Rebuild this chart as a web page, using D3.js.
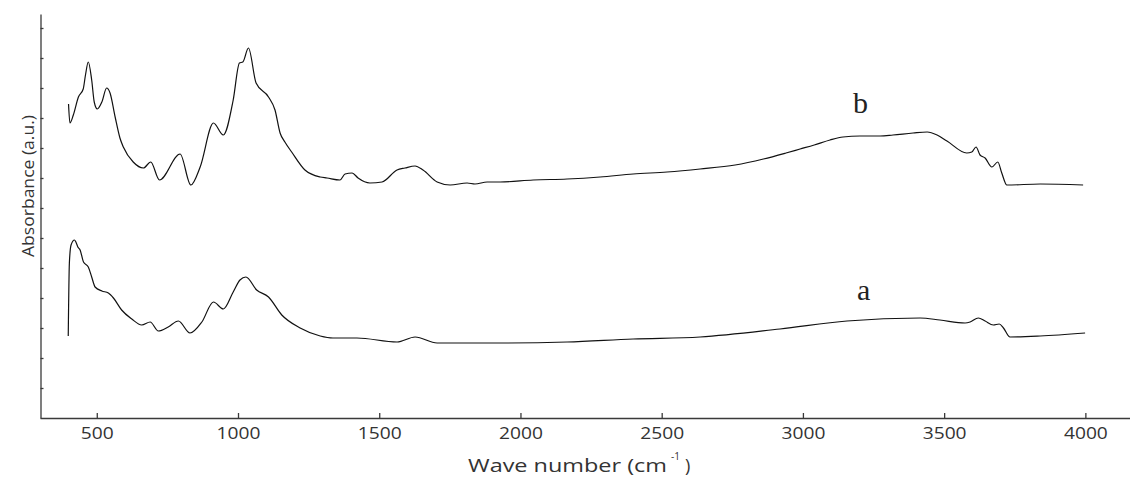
<!DOCTYPE html>
<html>
<head>
<meta charset="utf-8">
<script src="https://cdn.jsdelivr.net/npm/d3@7"></script>
<style>
	body { margin: 0; background: #fff; }
	svg { display: block; }
	.axis path, .axis line { stroke: #3a3a3a; stroke-width: 1.3; }
	.axis text { font-family: "Open Sans", sans-serif; fill: #333; }
</style>
</head>
<body>
<div class="chart"></div>
<script>
// curve b (upper spectrum)
var waveB = [400, 405, 417, 435, 452, 460, 470, 482, 491, 502, 518, 535, 547, 565, 582, 594,
	629, 665, 691, 722, 795, 833, 866, 913, 948, 983, 1005, 1017, 1037, 1064, 1108, 1131,
	1149, 1166, 1190, 1237, 1291, 1315, 1361, 1379, 1404, 1425, 1467, 1510, 1563, 1591,
	1627, 1655, 1705, 1751, 1811, 1839, 1882, 1928, 2045, 2165, 2282, 2399, 2519, 2636,
	2760, 2860, 2940, 2990, 3040, 3096, 3142, 3202, 3273, 3319, 3390, 3440, 3475, 3510,
	3580, 3598, 3613, 3627, 3645, 3669, 3690, 3704, 3722, 3840, 3992];
var absB = [314, 295, 303, 321, 329, 343, 356, 338, 316, 309, 316, 330, 325, 301, 280, 271,
	256, 250, 256, 238, 264, 233, 251, 295, 283, 318, 355, 356, 370, 335, 321, 308,
	285, 276, 266, 248, 241, 240, 238, 244, 245, 240, 235, 236, 248, 250,
	252, 248, 236, 233, 235, 234, 236, 236, 238, 239, 241, 244, 246, 249,
	253, 259, 265, 269, 273, 278, 281, 282, 282, 283, 285, 286, 283, 277,
	265, 266, 271, 263, 260, 251, 256, 245, 233, 234, 233];

// curve a (lower spectrum)
var waveA = [399, 403, 409, 421, 426, 433, 441, 453, 470, 482, 494, 518, 541, 559, 588, 624,
	659, 689, 718, 753, 789, 830, 872, 913, 948, 983, 1007, 1028, 1066, 1108, 1155, 1220,
	1291, 1336, 1421, 1563, 1627, 1705, 1811, 1928, 2165, 2399, 2636, 2919, 3156, 3415,
	3485, 3574, 3592, 3621, 3645, 3674, 3695, 3710, 3733, 3840, 3999];
var absA = [82, 155, 173, 178, 176, 171, 168, 156, 151, 141, 131, 127, 125, 120, 108, 99,
	93, 96, 87, 91, 97, 85, 96, 116, 109, 126, 138, 141, 128, 121, 103, 90,
	82, 80, 80, 76, 81, 75, 75, 75, 76, 79, 81, 89, 97, 100,
	98, 95, 96, 100, 97, 93, 94, 90, 81, 82, 85];

var xTicks = [500, 1000, 1500, 2000, 2500, 3000, 3500, 4000];
var yTicks = d3.range(30, 404, 30);
var seriesNames = ['a', 'b'];

var width = 1130;
var height = 477;

var svg = d3.select('.chart').append('svg')
	.attr('width', width)
	.attr('height', height)
	.attr('viewBox', `0 0 ${width} ${height}`);

var x = d3.scaleLinear().domain([299, 4158]).range([40, 1130]);
var y = d3.scaleLinear().domain([0, 404]).range([418, 14]);

// x axis, ticks point up into the plot
var xAxis = svg.append('g')
	.attr('class', 'axis')
	.attr('transform', 'translate(0,418)')
	.call(d3.axisBottom(x).tickValues(xTicks).tickFormat(d3.format('d'))
		.tickSizeInner(-5).tickSizeOuter(0).tickPadding(9.5));
xAxis.selectAll('text')
	.attr('font-size', 16)
	.attr('transform', 'scale(1.2,1)');

var yAxis = svg.append('g')
	.attr('class', 'axis')
	.attr('transform', 'translate(40.5,0)')
	.call(d3.axisLeft(y).tickValues(yTicks).tickFormat('').tickSizeInner(-3).tickSizeOuter(0));
yAxis.selectAll('line').attr('stroke-width', 0.7).attr('stroke', '#999');

var line = d3.line()
	.x(function(d) { return x(d[0]); })
	.y(function(d) { return y(d[1]); })
	.curve(d3.curveMonotoneX);

var series = [d3.zip(waveA, absA), d3.zip(waveB, absB)];

svg.selectAll('path.spectrum')
	.data(series)
	.enter()
	.append('path')
	.attr('class', 'spectrum')
	.attr('d', line)
	.attr('fill', 'none')
	.attr('stroke', '#111')
	.attr('stroke-width', 1.2);

// series labels
svg.selectAll('text.series')
	.data(seriesNames)
	.enter()
	.append('text')
	.attr('class', 'series')
	.attr('x', function(d) { return d === 'a' ? 857 : 853; })
	.attr('y', function(d) { return d === 'a' ? 300 : 113; })
	.attr('font-family', '"Liberation Serif", "Times New Roman", serif')
	.attr('font-size', 30)
	.attr('fill', '#222')
	.text(function(d) { return d; });

// axis titles
svg.append('text')
	.attr('transform', 'translate(33.5,186) rotate(-90)')
	.attr('text-anchor', 'middle')
	.attr('font-family', '"Open Sans", sans-serif')
	.attr('font-size', 17)
	.attr('textLength', 142)
	.attr('lengthAdjust', 'spacingAndGlyphs')
	.attr('fill', '#333')
	.text('Absorbance (a.u.)');

var title = svg.append('g')
	.attr('font-family', '"Open Sans", sans-serif')
	.attr('fill', '#333');
title.append('text')
	.attr('x', 468).attr('y', 472)
	.attr('font-size', 18)
	.attr('textLength', 199)
	.attr('lengthAdjust', 'spacingAndGlyphs')
	.text('Wave number (cm');
title.append('text')
	.attr('x', 671).attr('y', 460)
	.attr('font-size', 10)
	.text('-1');
title.append('text')
	.attr('x', 685).attr('y', 472)
	.attr('font-size', 18)
	.text(')');
</script>
</body>
</html>
